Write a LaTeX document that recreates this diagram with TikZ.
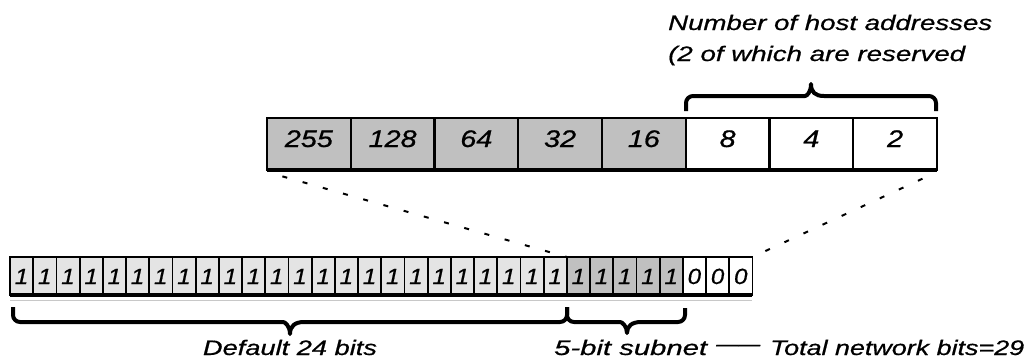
\documentclass[tikz,border=0pt]{standalone}
\usepackage{fontspec}
\setmainfont{Liberation Sans}[ItalicFeatures={FakeBold=0.6}]
\usepackage{graphicx}
\usetikzlibrary{calc}
\definecolor{cellgray}{RGB}{192,192,192}
\definecolor{bitlight}{RGB}{228,228,228}
\definecolor{shadowgray}{RGB}{200,200,200}
% stretch a text horizontally to a given width, keeping its height
\newcommand\wtext[2]{\resizebox{#1}{\height}{#2}}
\begin{document}
\begin{tikzpicture}[x=1pt,y=-1pt,
  topcell/.style={draw, line width=2.4pt, minimum width=83.75pt, minimum height=52pt,
    inner sep=0pt, outer sep=0pt, anchor=north west},
  bitcell/.style={draw, line width=1.8pt, minimum width=23.2pt, minimum height=38pt,
    inner sep=0pt, outer sep=0pt, anchor=north west},
  toplabel/.style={anchor=base, inner sep=0pt, font=\fontsize{24}{28}\selectfont\itshape},
  bitlabel/.style={anchor=base, inner sep=0pt, font=\fontsize{22}{26}\selectfont\itshape},
  caption/.style={inner sep=0pt, font=\fontsize{21}{25}\selectfont\itshape},
  dashline/.style={line width=2pt, dash pattern=on 5pt off 16pt, dash phase=5pt},
  bracepath/.style={line width=4pt, line join=round},
]
\useasboundingbox (0,0) rectangle (1029,360);

% 8-bit octet with place values
\foreach \v [count=\i from 0] in {255,128,64,32,16,8,4,2} {
  \pgfmathsetmacro\xl{267+83.75*\i}
  \ifnum\i<5 \def\fc{cellgray}\else\def\fc{white}\fi
  \node[topcell, fill=\fc] (t\i) at (\xl,118) {};
  \node[toplabel] (tl\i) at ($(t\i.south)+(0,-23)$) {\scalebox{1.2}[1]{\v}};
}
\draw[line width=4pt] (t0.south west) -- (t7.south east);

% 32-bit mask
\foreach \i in {0,...,31} {
  \pgfmathsetmacro\xl{10+23.2*\i}
  \ifnum\i<24 \def\fc{bitlight}\else\ifnum\i<29 \def\fc{cellgray}\else\def\fc{white}\fi\fi
  \ifnum\i<29 \def\bv{1}\else\def\bv{0}\fi
  \node[bitcell, fill=\fc] (b\i) at (\xl,257) {};
  \node[bitlabel] (bl\i) at ($(b\i.south)+(0,-11)$) {\scalebox{1.1}[1]{\bv}};
}
\draw[line width=4pt] (b0.south west) -- (b31.south east);
\draw[line width=1.2pt, shadowgray] ($(b0.south west)+(0,5.5)$) -- ($(b31.south east)+(0,5.5)$);

% projection of the octet onto the last byte
\draw[dashline] ($(t0.south west)+(0,2)$) -- (b24.north west);
\draw[dashline] ($(t7.south east)+(0,2)$) -- (b31.north east);

% brace over the host bits
\draw[bracepath] (686,111) [rounded corners=7pt] |- (798,96) [sharp corners]
  .. controls (807,96) and (811,92) .. (811,84)
  .. controls (811,92) and (815,96) .. (824,96) [rounded corners=7pt] -| (936,111);

% braces under the mask
\draw[bracepath] (13,307) [rounded corners=7pt] |- (276,322) [sharp corners]
  .. controls (285,322) and (290,326) .. (290,334)
  .. controls (290,326) and (295,322) .. (304,322) [rounded corners=7pt] -| (567,307);
\draw[bracepath] (567,307) [rounded corners=7pt] |- (613,322) [sharp corners]
  .. controls (622,322) and (627,326) .. (627,333)
  .. controls (627,326) and (632,322) .. (641,322) [rounded corners=7pt] -| (685,308);

% captions
\node[caption, anchor=base west] (hosts1) at (668,30) {\wtext{324pt}{Number of host addresses}};
\node[caption, anchor=base west] (hosts2) at (668,61) {\wtext{297pt}{(2 of which are reserved}};
\node[caption, anchor=base] (deflt) at (290,355) {\wtext{174pt}{Default 24 bits}};
\node[caption, anchor=base west] (subnet) at (554,355) {\wtext{153pt}{5-bit subnet}};
\node[caption, anchor=base west] (rule) at (716,355) {\raisebox{4pt}{\wtext{44pt}{——}}};
\node[caption, anchor=base west] (total) at (770,355) {\wtext{254pt}{Total network bits=29}};
\end{tikzpicture}
\end{document}
